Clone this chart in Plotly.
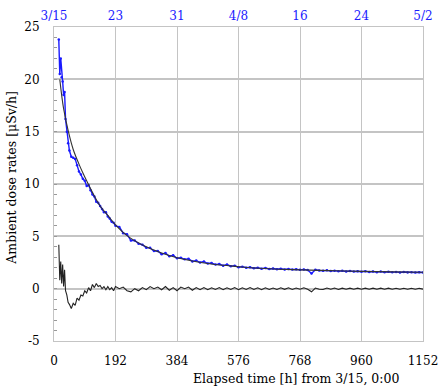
import plotly.graph_objects as go

# ---- data ----
t_meas = [15, 18, 21, 24, 27, 30, 33, 36, 40, 44, 48, 54, 60, 66, 72, 78, 84, 90, 96, 102,
          108, 114, 120, 126, 132, 138, 144, 150, 156, 162, 168, 174, 180, 186, 192,
          204, 216, 228, 240, 252, 264, 276, 288, 300, 312, 324, 336, 348, 360, 372, 384,
          396, 408, 420, 432, 444, 456, 468, 480, 492, 504, 516, 528, 540, 552, 564, 576,
          588, 600, 612, 624, 636, 648, 660, 672, 684, 696, 708, 720, 732, 744, 756, 768,
          780, 792, 804, 816, 828, 840, 852, 864, 876, 888, 900, 912, 924, 936, 948, 960,
          972, 984, 996, 1008, 1020, 1032, 1044, 1056, 1068, 1080, 1092, 1104, 1116, 1128, 1140, 1152]

measured = [23.8, 20.5, 22.0, 20.2, 19.8, 18.5, 18.8, 16.2, 15.0, 13.9, 13.2, 12.6, 12.5, 12.4, 11.8, 11.2, 10.9, 10.5, 10.3, 9.8,
            9.9, 9.4, 9.0, 8.8, 8.3, 8.2, 7.9, 7.6, 7.3, 7.3, 6.9, 6.7, 6.4, 6.3, 6.0,
            5.9, 5.3, 5.2, 4.6, 4.6, 4.3, 4.2, 3.9, 3.9, 3.6, 3.6, 3.3, 3.4, 3.1, 3.2, 2.9,
            2.95, 2.8, 2.85, 2.6, 2.7, 2.5, 2.6, 2.4, 2.45, 2.3, 2.35, 2.2, 2.3, 2.15, 2.2, 2.05,
            2.1, 2.0, 2.05, 1.95, 2.0, 1.9, 1.97, 1.88, 1.93, 1.85, 1.9, 1.83, 1.88, 1.82, 1.86, 1.8,
            1.84, 1.78, 1.45, 1.8, 1.74, 1.7, 1.75, 1.68, 1.72, 1.66, 1.7, 1.64, 1.68, 1.63, 1.67, 1.62,
            1.66, 1.6, 1.64, 1.58, 1.63, 1.57, 1.62, 1.56, 1.6, 1.55, 1.59, 1.55, 1.58, 1.54, 1.57, 1.55]

residual = [4.2, 0.8, 2.6, 0.5, 2.3, 0.2, 1.8, -0.2, -0.6, -1.3, -1.5, -1.9, -1.4, -1.6, -0.9, -1.1, -0.6, -0.7, -0.2, -0.4,
            0.1, -0.2, 0.4, 0.1, 0.5, 0.2, 0.3, 0.0, 0.2, -0.1, 0.2, -0.1, 0.1, -0.2, 0.2,
            0.0, 0.15, -0.2, -0.3, 0.0, -0.2, 0.1, -0.1, 0.2, 0.0, 0.15, -0.1, 0.2, -0.15, 0.1, -0.2,
            0.15, 0.0, 0.15, -0.15, 0.1, -0.1, 0.1, -0.1, 0.08, -0.08, 0.1, -0.1, 0.08, -0.08, 0.1, -0.1,
            0.08, -0.08, 0.1, -0.08, 0.08, -0.1, 0.08, -0.08, 0.06, -0.08, 0.08, -0.06, 0.08, -0.08, 0.06, -0.06,
            0.08, -0.06, -0.3, 0.06, -0.06, -0.08, 0.06, -0.06, 0.06, -0.08, 0.05, -0.06, 0.05, -0.06, 0.05, -0.06,
            0.05, -0.06, 0.05, -0.06, 0.05, -0.05, 0.05, -0.06, 0.04, -0.05, 0.04, -0.05, 0.04, -0.05, 0.04, -0.04]

t_fit = [18, 30, 45, 60, 78, 91, 102, 120, 144, 168, 192, 231, 288, 336, 384, 480, 576, 672, 768, 864, 960, 1056, 1152]
fitted = [20.0, 17.2, 15.0, 13.3, 11.9, 11.0, 10.3, 9.2, 7.9, 7.0, 6.1, 5.0, 4.0, 3.4, 2.95, 2.4, 2.1, 1.9, 1.8, 1.72, 1.65, 1.6, 1.57]

x_ticks = [0, 192, 384, 576, 768, 960, 1152]
date_labels = ["3/15", "23", "31", "4/8", "16", "24", "5/2"]
y_ticks = [-5, 0, 5, 10, 15, 20, 25]
y_labels = ["-5", "0", "5", "10", "15", "20", "25"]

FONT = "DejaVu Serif"
GRID = "#c4c4c4"
TICK_SIZE = 12
TITLE_SIZE = 12.5

fig = go.Figure()
fig.add_trace(go.Scatter(x=t_meas, y=measured, mode="lines+markers",
                         line=dict(color="#1a1aff", width=1.4),
                         marker=dict(size=2.5, color="#1a1aff"), showlegend=False))
fig.add_trace(go.Scatter(x=t_fit, y=fitted, mode="lines", line_shape="spline",
                         line=dict(color="#333333", width=1.1), showlegend=False))
fig.add_trace(go.Scatter(x=t_meas, y=residual, mode="lines",
                         line=dict(color="#222222", width=1.1), showlegend=False))
# invisible trace for top date axis
fig.add_trace(go.Scatter(x=[0, 1152], y=[None, None], xaxis="x2", mode="lines", showlegend=False,
                         hoverinfo="skip"))

fig.update_layout(
    width=441, height=391,
    margin=dict(l=54, r=18, t=27, b=50),
    paper_bgcolor="white", plot_bgcolor="white",
    font=dict(family=FONT, size=TICK_SIZE, color="black"),
    xaxis=dict(range=[0, 1152], tickvals=x_ticks, ticktext=[str(v) for v in x_ticks],
               tickfont=dict(family=FONT, size=TICK_SIZE),
               showgrid=True, gridcolor=GRID, gridwidth=1, zeroline=False,
               showline=True, linecolor=GRID, mirror=True, ticks="",
               ticklabelstandoff=9, automargin=False),
    xaxis2=dict(range=[0, 1152], overlaying="x", side="top", tickvals=x_ticks,
                ticktext=date_labels, tickfont=dict(color="#1a1aff", size=TICK_SIZE, family=FONT),
                showgrid=False, zeroline=False, showline=False, ticks="", ticklabelstandoff=4,
                automargin=False),
    yaxis=dict(range=[-5, 25], tickvals=y_ticks, ticktext=y_labels,
               tickfont=dict(family=FONT, size=TICK_SIZE),
               showgrid=True, gridcolor=GRID, gridwidth=1.5, zeroline=False,
               showline=True, linecolor=GRID, mirror=True,
               ticks="inside", ticklen=0, ticklabelstandoff=11, automargin=False,
               minor=dict(dtick=1, ticks="inside", ticklen=3, tickcolor="#999999", showgrid=False)),
    annotations=[
        dict(text="Elapsed time [h] from 3/15, 0:00", xref="paper", yref="paper",
             x=1.0, y=0, xanchor="right", yanchor="top", yshift=-28, xshift=-22,
             showarrow=False, font=dict(size=TITLE_SIZE, family=FONT)),
        dict(text="Ambient dose rates [μSv/h]", xref="paper", yref="paper",
             x=0, y=0.52, xanchor="center", yanchor="middle", xshift=-42, textangle=-90,
             showarrow=False, font=dict(size=TITLE_SIZE, family=FONT)),
    ],
)

fig.write_html("out.html", config={"displayModeBar": False})
# remove the default page margin so the figure sits at the window's top-left corner
with open("out.html", encoding="utf-8") as f:
    html = f.read()
html = html.replace("<head>", "<head><style>html,body{margin:0;padding:0;overflow:hidden;}</style>", 1)
with open("out.html", "w", encoding="utf-8") as f:
    f.write(html)
